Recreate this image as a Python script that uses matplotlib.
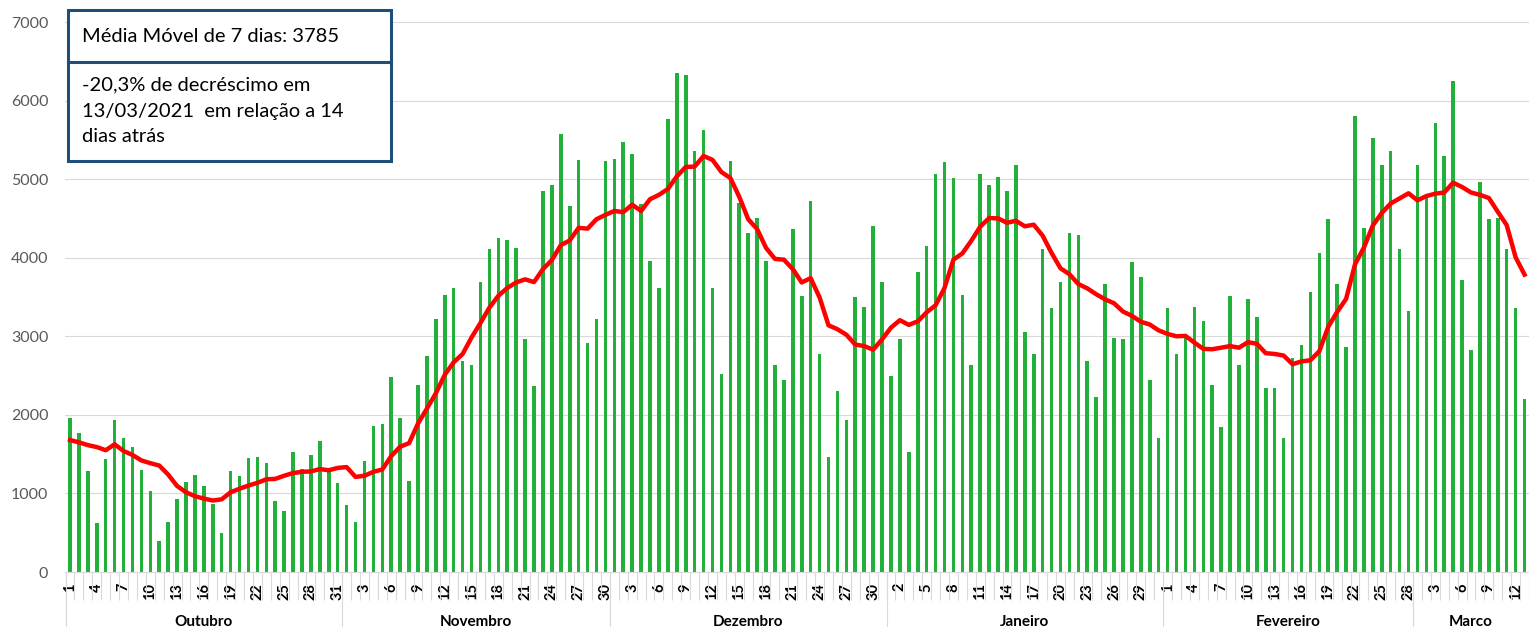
import numpy as np
import matplotlib.pyplot as plt
from matplotlib.patches import Rectangle
from matplotlib.lines import Line2D

plt.rcParams['font.family'] = ['Lato', 'DejaVu Sans']

months = ['Outubro', 'Novembro', 'Dezembro', 'Janeiro', 'Fevereiro', 'Marco']
days_in_month = [31, 30, 31, 31, 28, 13]

# casos diarios (out/2020 - mar/2021)
cases_oct = [1960, 1770, 1280, 620, 1440, 1930, 1700, 1590, 1300, 1030,
             400, 640, 930, 1140, 1240, 1090, 860, 500, 1280, 1220,
             1450, 1470, 1390, 910, 780, 1530, 1310, 1490, 1670, 1290, 1130]
cases_nov = [850, 640, 1410, 1860, 1880, 2480, 1960, 1160, 2380, 2750,
             3220, 3530, 3610, 2690, 2640, 3690, 4110, 4250, 4230, 4130,
             2970, 2370, 4850, 4930, 5570, 4660, 5240, 2910, 3220, 5230]
cases_dec = [5260, 5470, 5320, 4690, 3960, 3610, 5770, 6350, 6330, 5360,
             5630, 3610, 2520, 5230, 4700, 4310, 4500, 3960, 2640, 2440,
             4370, 3510, 4720, 2770, 1470, 2310, 1930, 3500, 3370, 4410, 3690]
cases_jan = [2500, 2970, 1530, 3820, 4150, 5070, 5220, 5010, 3530, 2640,
             5070, 4930, 5030, 4850, 5180, 3050, 2770, 4110, 3360, 3690,
             4310, 4290, 2690, 2230, 3670, 2980, 2970, 3940, 3760, 2440, 1700]
cases_feb = [3360, 2770, 2990, 3370, 3200, 2380, 1850, 3510, 2640, 3470,
             3240, 2340, 2340, 1700, 2730, 2890, 3570, 4060, 4490, 3670,
             2870, 5800, 4380, 5530, 5180, 5360, 4110, 3320]
cases_mar = [5180, 4780, 5710, 5300, 6250, 3720, 2820, 4970, 4490, 4500,
             4110, 3360, 2200]

# media movel de 7 dias
ma_oct = [1680, 1650, 1615, 1590, 1550, 1625, 1540, 1490, 1420, 1385,
          1355, 1240, 1095, 1015, 965, 935, 910, 925, 1015, 1060,
          1100, 1135, 1180, 1185, 1225, 1260, 1275, 1280, 1310, 1295, 1325]
ma_nov = [1335, 1210, 1225, 1275, 1305, 1475, 1595, 1640, 1890, 2080,
          2275, 2510, 2670, 2775, 2985, 3170, 3365, 3515, 3615, 3685,
          3725, 3690, 3855, 3970, 4160, 4220, 4380, 4370, 4490, 4545]
ma_dec = [4595, 4580, 4675, 4595, 4745, 4800, 4875, 5035, 5155, 5160,
          5295, 5245, 5090, 5015, 4775, 4490, 4365, 4125, 3985, 3975,
          3855, 3685, 3740, 3495, 3140, 3090, 3020, 2895, 2875, 2830, 2960]
ma_jan = [3110, 3205, 3145, 3190, 3305, 3395, 3615, 3975, 4055, 4215,
          4395, 4505, 4500, 4445, 4470, 4400, 4420, 4280, 4060, 3865,
          3790, 3665, 3610, 3535, 3470, 3420, 3315, 3260, 3185, 3150, 3075]
ma_feb = [3030, 3000, 3005, 2920, 2840, 2835, 2855, 2875, 2855, 2925,
          2905, 2785, 2775, 2755, 2645, 2680, 2695, 2810, 3120, 3310,
          3475, 3915, 4130, 4410, 4570, 4690, 4755, 4820]
ma_mar = [4730, 4785, 4815, 4830, 4955, 4900, 4830, 4800, 4760, 4585,
          4415, 4005, 3785]

box_title = 'Média Móvel de 7 dias: 3785'
box_lines = ['-20,3% de decréscimo em', '13/03/2021  em relação a 14', 'dias atrás']

cases = np.concatenate([cases_oct, cases_nov, cases_dec, cases_jan, cases_feb, cases_mar])
ma = np.concatenate([ma_oct, ma_nov, ma_dec, ma_jan, ma_feb, ma_mar])
day_num = np.concatenate([np.arange(1, n + 1) for n in days_in_month])
x = np.arange(len(cases))

W, H = 1529, 627
fig = plt.figure(figsize=(W / 100, H / 100), dpi=100)
ax = fig.add_axes([65 / W, 55 / H, (W - 65) / W, 550 / H])

ax.bar(x, cases, width=0.4, color='#22B03A', zorder=2)
ax.plot(x, ma, color='#FF0000', lw=3.2, zorder=3, solid_joinstyle='round')

ax.set_ylim(0, 7000)
ax.set_xlim(-0.56, 163.0)
ax.set_yticks(range(0, 7001, 1000))
ax.yaxis.grid(True, color='#D9D9D9', lw=0.8)
ax.set_axisbelow(True)
for s in ['left', 'top', 'right']:
    ax.spines[s].set_visible(False)
ax.spines['bottom'].set_color('#D9D9D9')
ax.tick_params(axis='y', length=0, pad=12, labelsize=11.5, labelcolor='#595959')

ax.set_xticks(x[::3])
ax.set_xticklabels(day_num[::3], rotation=90, fontweight='bold', fontsize=10.5)
ax.tick_params(axis='x', which='major', length=0, pad=8)
ax.set_xticks(np.arange(-0.5, len(cases), 1), minor=True)
ax.tick_params(axis='x', which='minor', length=20, width=0.8, color='#D9D9D9')

# separadores e nomes dos meses
trans = ax.get_xaxis_transform()
start = 0
for name, n in zip(months, days_in_month):
    ax.add_line(Line2D([start - 0.5, start - 0.5], [0, -0.1], transform=trans,
                       color='#D9D9D9', lw=0.8, clip_on=False))
    ax.text(start + (n - 1) / 2, -50 / 550, name, transform=trans, ha='center',
            va='center', fontweight='bold', fontsize=11)
    start += n

# caixa de texto
fig.add_artist(Rectangle((67.5 / W, 1 - 161 / H), 323 / W, 151 / H,
                         transform=fig.transFigure, facecolor='white',
                         edgecolor='#1F4E79', lw=2.2, zorder=10))
fig.add_artist(Line2D([67.5 / W, 390.5 / W], [1 - 62 / H, 1 - 62 / H],
                      transform=fig.transFigure, color='#1F4E79', lw=2.2, zorder=11))
fig.text(82 / W, 1 - 37 / H, box_title, fontsize=14.5, va='center', zorder=12)
for i, line in enumerate(box_lines):
    fig.text(82 / W, 1 - (85 + 26 * i) / H, line, fontsize=14.5, va='center', zorder=12)

fig.savefig('out.png', dpi=100)
